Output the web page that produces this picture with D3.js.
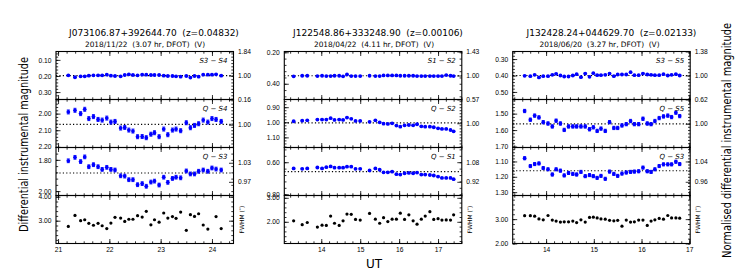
<!DOCTYPE html>
<html>
<head>
<meta charset="utf-8">
<script src="https://cdn.jsdelivr.net/npm/d3@7"></script>
<style>
body { margin: 0; background: #fff; }
svg { font-family: "DejaVu Sans", sans-serif; }
.tick text { font-size: 6.7px; fill: #000; }
.tick line { stroke: #000; stroke-width: 0.8; }
</style>
</head>
<body>
<div id="chart"></div>
<script>
// Chart data
//=====================================================================
var titles = ["J073106.87+392644.70  (z=0.04832)", "J122548.86+333248.90  (z=0.00106)", "J132428.24+044629.70  (z=0.02133)"];
var subtitles = ["2018/11/22  (3.07 hr, DFOT)  (V)", "2018/04/22  (4.11 hr, DFOT)  (V)", "2018/06/20  (3.27 hr, DFOT)  (V)"];
var rowLabels = [["S3 \u2212 S4", "Q \u2212 S4", "Q \u2212 S3"], ["S1 \u2212 S2", "Q \u2212 S2", "Q \u2212 S1"], ["S3 \u2212 S5", "Q \u2212 S5", "Q \u2212 S3"]];
var xTicks = [[21, 22, 23, 24], [14, 15, 16, 17], [14, 15, 16, 17]];

// panel 1
var p1Time = [21.20, 21.33, 21.44, 21.52, 21.60, 21.69, 21.78, 21.86, 21.95, 22.03, 22.11, 22.22, 22.30, 22.38, 22.46, 22.55, 22.64, 22.72, 22.81, 22.88, 22.97, 23.06, 23.14, 23.23, 23.30, 23.39, 23.50, 23.58, 23.66, 23.74, 23.83, 23.92, 24.00, 24.08, 24.18];
var p1Comp = [0.196, 0.208, 0.202, 0.202, 0.198, 0.196, 0.196, 0.196, 0.192, 0.198, 0.200, 0.202, 0.194, 0.190, 0.194, 0.196, 0.192, 0.192, 0.194, 0.194, 0.194, 0.198, 0.200, 0.200, 0.202, 0.204, 0.200, 0.210, 0.200, 0.204, 0.192, 0.192, 0.192, 0.190, 0.198];
var p1QS4 = [1.990, 1.980, 2.000, 1.974, 2.030, 2.018, 2.035, 2.039, 2.027, 2.051, 2.047, 2.087, 2.083, 2.099, 2.105, 2.139, 2.138, 2.145, 2.124, 2.115, 2.139, 2.093, 2.127, 2.099, 2.093, 2.103, 2.055, 2.085, 2.071, 2.061, 2.039, 2.051, 2.030, 2.035, 2.047];
var p1QS3 = [1.806, 1.784, 1.811, 1.781, 1.844, 1.831, 1.844, 1.861, 1.848, 1.861, 1.865, 1.902, 1.904, 1.927, 1.927, 1.959, 1.952, 1.969, 1.942, 1.936, 1.961, 1.911, 1.944, 1.919, 1.911, 1.915, 1.871, 1.890, 1.890, 1.873, 1.865, 1.873, 1.852, 1.859, 1.865];
var p1Fwhm = [2.76, 3.22, 3.00, 3.04, 2.89, 2.81, 2.89, 2.79, 2.67, 2.90, 3.14, 3.11, 2.97, 3.06, 3.06, 3.21, 3.15, 3.39, 2.83, 3.04, 2.94, 3.32, 3.11, 3.17, 3.10, 3.36, 2.60, 3.25, 3.18, 3.29, 2.82, 2.65, null, 3.17, 2.67];
var p1Err = [0.003, 0.012, 0.012];
var p1Level = [0.198, 2.065, 1.884];

// panel 2
var p2Time = [13.29, 13.51, 13.64, 13.90, 14.02, 14.13, 14.24, 14.34, 14.46, 14.56, 14.66, 14.77, 14.88, 15.00, 15.24, 15.39, 15.50, 15.60, 15.71, 15.82, 15.93, 16.03, 16.14, 16.25, 16.36, 16.46, 16.57, 16.67, 16.79, 16.89, 17.00, 17.10, 17.21, 17.32, 17.40];
var p2Comp = [0.353, 0.349, 0.349, 0.351, 0.349, 0.351, 0.351, 0.349, 0.349, 0.353, 0.341, 0.351, 0.351, 0.351, 0.349, 0.351, 0.351, 0.347, 0.347, 0.347, 0.347, 0.349, 0.349, 0.349, 0.349, 0.351, 0.351, 0.351, 0.351, 0.351, 0.351, 0.351, 0.345, 0.349, 0.351];
var p2QS2 = [0.993, 0.989, 0.987, 0.982, 0.982, 0.982, 0.973, 0.984, 0.982, 0.984, 0.969, 0.977, 0.991, 0.991, 0.997, 0.987, 1.000, 1.009, 1.011, 1.007, 1.022, 1.029, 1.020, 1.018, 1.020, 1.013, 1.027, 1.029, 1.029, 1.033, 1.040, 1.044, 1.044, 1.051, 1.060];
var p2QS1 = [0.639, 0.641, 0.639, 0.633, 0.639, 0.631, 0.626, 0.634, 0.634, 0.634, 0.628, 0.628, 0.641, 0.641, 0.651, 0.639, 0.647, 0.663, 0.663, 0.659, 0.675, 0.677, 0.669, 0.667, 0.669, 0.665, 0.677, 0.677, 0.680, 0.683, 0.690, 0.698, 0.698, 0.698, 0.706];
var p2Fwhm = [2.04, 1.88, 1.97, 1.78, 1.86, 1.85, 2.24, 1.94, 1.85, 2.04, 2.32, 2.31, 2.10, 2.07, 2.35, 2.11, 1.94, 2.17, 2.01, 2.11, 2.11, 2.36, 2.10, 2.29, 2.04, 1.90, 2.11, 2.24, 2.42, 2.10, 2.13, 2.07, 2.08, 2.07, 2.29];
var p2Err = [0.002, 0.003, 0.003];
var p2Level = [0.349, 1.004, 0.659];

// panel 3
var p3Time = [13.55, 13.67, 13.76, 13.85, 13.94, 14.04, 14.13, 14.21, 14.30, 14.38, 14.47, 14.56, 14.64, 14.73, 14.82, 14.91, 14.99, 15.07, 15.15, 15.24, 15.33, 15.42, 15.50, 15.59, 15.68, 15.77, 15.85, 15.94, 16.03, 16.12, 16.20, 16.28, 16.37, 16.46, 16.55, 16.63, 16.72, 16.80];
var p3Comp = [0.402, 0.404, 0.396, 0.412, 0.404, 0.404, 0.396, 0.390, 0.400, 0.406, 0.406, 0.400, 0.392, 0.410, 0.388, 0.408, 0.386, 0.398, 0.398, 0.396, 0.388, 0.404, 0.394, 0.394, 0.394, 0.380, 0.398, 0.398, 0.388, 0.394, 0.396, 0.398, 0.398, 0.392, 0.400, 0.396, 0.392, 0.400];
var p3QS5 = [1.484, 1.537, 1.512, 1.523, 1.552, 1.560, 1.578, 1.543, 1.560, 1.599, 1.578, 1.578, 1.578, 1.578, 1.578, 1.595, 1.583, 1.605, 1.591, 1.605, 1.552, 1.587, 1.587, 1.572, 1.564, 1.545, 1.564, 1.564, 1.531, 1.560, 1.564, 1.545, 1.527, 1.517, 1.512, 1.521, 1.494, 1.515];
var p3QS3 = [1.079, 1.130, 1.117, 1.113, 1.143, 1.151, 1.185, 1.151, 1.160, 1.191, 1.175, 1.181, 1.185, 1.168, 1.196, 1.189, 1.196, 1.207, 1.194, 1.213, 1.166, 1.181, 1.194, 1.179, 1.172, 1.168, 1.166, 1.164, 1.140, 1.164, 1.168, 1.151, 1.130, 1.119, 1.119, 1.119, 1.102, 1.117];
var p3Fwhm = [3.14, 3.14, 3.12, 3.01, 2.97, 3.15, 2.96, 2.92, 2.88, 2.89, 2.89, 2.92, 2.86, 2.97, 2.88, 3.07, 3.08, 3.05, 3.01, 3.00, 2.95, 2.93, 2.95, 2.71, 2.96, 2.88, 2.89, 2.96, 2.96, 2.74, 2.92, 2.97, 3.03, 3.00, 3.15, 3.05, 3.05, 3.04];
var p3Err = [0.003, 0.010, 0.010];
var p3Level = [0.400, 1.562, 1.161];

// left / right axis tick labels per row
var yTicks = [
    [[0.10, 0.20, 0.30], [2.00, 2.10, 2.20], [1.80, 2.00], [3.00, 4.00]],
    [[0.20, 0.40], [0.90, 1.00, 1.10], [0.60, 0.80], [2.00, 3.00]],
    [[0.30, 0.40, 0.50], [1.50, 1.60, 1.70], [1.10, 1.20, 1.30], [2.00, 3.00]]
];
var rTicks = [
    [[0.16, 1.00, 1.84], [1.00], [0.97, 1.03]],
    [[0.57, 1.00, 1.43], [1.00], [0.92, 1.08]],
    [[0.62, 1.00, 1.38], [1.00], [0.96, 1.04]]
];

// Layout and axis settings
//=====================================================================
var svgWidth = 747, svgHeight = 271;
var panelLeft = [56, 284.3, 512.7];
var panelW = 177.5;
var top0 = 51.5, rowH = 48;

var xDomains = [[20.96, 24.42], [13.05, 17.61], [13.30, 17.02]];
var xMinor = [6, 5, 6];
// left domains, listed top value then bottom value
var yDomains = [
    [[0.048, 0.346], [1.915, 2.204], [1.721, 2.028], [4.05, 2.05]],
    [[0.195, 0.500], [0.849, 1.167], [0.508, 0.808], [3.096, 1.096]],
    [[0.254, 0.546], [1.414, 1.706], [1.009, 1.322], [3.97, 2.00]]
];
var yMinorStep = [[0.02, 0.02, 0.04, 0.2], [0.04, 0.02, 0.04, 0.2], [0.02, 0.02, 0.02, 0.2]];
// right domains, listed bottom value then top value
var rDomains = [
    [[0.16, 1.84], [0.905, 1.105], [0.927, 1.078]],
    [[0.57, 1.43], [0.899, 1.099], [0.808, 1.200]],
    [[0.62, 1.38], [0.901, 1.101], [0.906, 1.095]]
];
var titleX = [154, 378, 611.5];
var subX = [145, 374, 599.5];

var panels = [
    { time: p1Time, rows: [p1Comp, p1QS4, p1QS3, p1Fwhm], err: p1Err, level: p1Level },
    { time: p2Time, rows: [p2Comp, p2QS2, p2QS1, p2Fwhm], err: p2Err, level: p2Level },
    { time: p3Time, rows: [p3Comp, p3QS5, p3QS3, p3Fwhm], err: p3Err, level: p3Level }
];

var svg = d3.select("#chart")
    .append("svg")
    .attr("width", svgWidth)
    .attr("height", svgHeight);

function minorRange(d0, d1, step) {
    var lo = Math.min(d0, d1), hi = Math.max(d0, d1);
    return d3.range(Math.ceil(lo / step - 1e-6) * step, hi + 1e-9, step);
}

function styleAxis(g) {
    g.select(".domain").remove();
}

panels.forEach(function (p, pi) {
    var g = svg.append("g").attr("transform", `translate(${panelLeft[pi]}, 0)`);

    var x = d3.scaleLinear().domain(xDomains[pi]).range([0, panelW]);
    var xMin = minorRange(xDomains[pi][0], xDomains[pi][1], 1 / xMinor[pi]);

    // titles
    svg.append("text")
        .attr("x", titleX[pi]).attr("y", 36)
        .attr("text-anchor", "middle")
        .style("font-size", "9px")
        .style("white-space", "pre")
        .text(titles[pi]);
    svg.append("text")
        .attr("x", subX[pi]).attr("y", 47)
        .attr("text-anchor", "middle")
        .style("font-size", "7.4px")
        .style("white-space", "pre")
        .text(subtitles[pi]);

    p.rows.forEach(function (vals, ri) {
        var y0 = top0 + ri * rowH;
        var rg = g.append("g").attr("transform", `translate(0, ${y0})`);
        var y = d3.scaleLinear().domain(yDomains[pi][ri]).range([0, rowH]);
        var yMin = minorRange(yDomains[pi][ri][0], yDomains[pi][ri][1], yMinorStep[pi][ri]);

        // left axis
        rg.append("g").call(d3.axisLeft(y).tickValues(yMin).tickSize(-2.2).tickFormat("")).call(styleAxis);
        rg.append("g").call(d3.axisLeft(y).tickValues(yTicks[pi][ri]).tickSize(-4.5).tickPadding(4.5)
            .tickFormat(d3.format(".2f"))).call(styleAxis);

        // right side: mirror ticks
        var rgR = rg.append("g").attr("transform", `translate(${panelW}, 0)`);
        rgR.append("g").call(d3.axisRight(y).tickValues(yMin).tickSize(-2.2).tickFormat("")).call(styleAxis);
        if (ri < 3) {
            var yr = d3.scaleLinear().domain(rDomains[pi][ri]).range([rowH, 0]);
            rgR.append("g").call(d3.axisRight(yr).tickValues(rTicks[pi][ri]).tickSize(-4.5).tickPadding(4.5)
                .tickFormat(d3.format(".2f"))).call(styleAxis);
        } else {
            rgR.append("g").call(d3.axisRight(y).tickValues(yTicks[pi][ri]).tickSize(-4.5).tickFormat("")).call(styleAxis);
            rgR.append("text")
                .attr("transform", `translate(10, ${rowH / 2}) rotate(-90)`)
                .attr("text-anchor", "middle")
                .style("font-size", "6px")
                .text("FWHM (\u2033)");
        }

        // top and bottom ticks
        rg.append("g").call(d3.axisTop(x).tickValues(xMin).tickSize(-2.2).tickFormat("")).call(styleAxis);
        rg.append("g").call(d3.axisTop(x).tickValues(xTicks[pi]).tickSize(-4.5).tickFormat("")).call(styleAxis);
        var bx = rg.append("g").attr("transform", `translate(0, ${rowH})`);
        bx.append("g").call(d3.axisBottom(x).tickValues(xMin).tickSize(-2.2).tickFormat("")).call(styleAxis);
        bx.append("g").call(d3.axisBottom(x).tickValues(xTicks[pi]).tickSize(-4.5).tickPadding(3.5)
            .tickFormat(ri === 3 ? d3.format("d") : "")).call(styleAxis);

        var pts = p.time.map(function (t, i) { return { t: t, v: vals[i] }; })
            .filter(function (d) { return d.v !== null; });

        if (ri < 3) {
            // dotted mean level
            rg.append("line")
                .attr("x1", 0).attr("x2", panelW)
                .attr("y1", y(p.level[ri])).attr("y2", y(p.level[ri]))
                .attr("stroke", "#000").attr("stroke-width", 1.1)
                .attr("stroke-dasharray", "1.2,2.2");

            var e = p.err[ri];
            var eb = rg.append("g").attr("stroke", "#0000ff").attr("stroke-width", 0.9);
            eb.selectAll("line.bar").data(pts).enter().append("line")
                .attr("x1", d => x(d.t)).attr("x2", d => x(d.t))
                .attr("y1", d => y(d.v - e)).attr("y2", d => y(d.v + e));
            eb.selectAll("line.cap1").data(pts).enter().append("line")
                .attr("x1", d => x(d.t) - 1.5).attr("x2", d => x(d.t) + 1.5)
                .attr("y1", d => y(d.v - e)).attr("y2", d => y(d.v - e));
            eb.selectAll("line.cap2").data(pts).enter().append("line")
                .attr("x1", d => x(d.t) - 1.5).attr("x2", d => x(d.t) + 1.5)
                .attr("y1", d => y(d.v + e)).attr("y2", d => y(d.v + e));

            rg.append("g").selectAll("circle").data(pts).enter().append("circle")
                .attr("cx", d => x(d.t)).attr("cy", d => y(d.v))
                .attr("r", 1.9).attr("fill", "#0000ff");

            rg.append("text")
                .attr("x", panelW - 6).attr("y", 11)
                .attr("text-anchor", "end")
                .style("font-size", "7px")
                .style("font-style", "italic")
                .text(rowLabels[pi][ri]);
        } else {
            rg.append("g").selectAll("circle").data(pts).enter().append("circle")
                .attr("cx", d => x(d.t)).attr("cy", d => y(d.v))
                .attr("r", 1.6).attr("fill", "#000");
        }

        // frame
        rg.append("rect")
            .attr("width", panelW).attr("height", rowH)
            .attr("fill", "none").attr("stroke", "#000").attr("stroke-width", 1.1);
    });
});

// axis titles (narrow, tall lettering as in the figure)
svg.append("text")
    .attr("transform", "translate(28, 144.5) rotate(-90) scale(1, 1.3)")
    .attr("text-anchor", "middle")
    .attr("textLength", 175).attr("lengthAdjust", "spacingAndGlyphs")
    .style("font-size", "10px")
    .text("Differential instrumental magnitude");

svg.append("text")
    .attr("transform", "translate(731, 140.5) rotate(-90) scale(1, 1.3)")
    .attr("text-anchor", "middle")
    .attr("textLength", 235).attr("lengthAdjust", "spacingAndGlyphs")
    .style("font-size", "9.5px")
    .text("Normalised differential instrumental magnitude");

svg.append("text")
    .attr("x", 374).attr("y", 268)
    .attr("text-anchor", "middle")
    .style("font-size", "12px")
    .text("UT");
</script>
</body>
</html>
